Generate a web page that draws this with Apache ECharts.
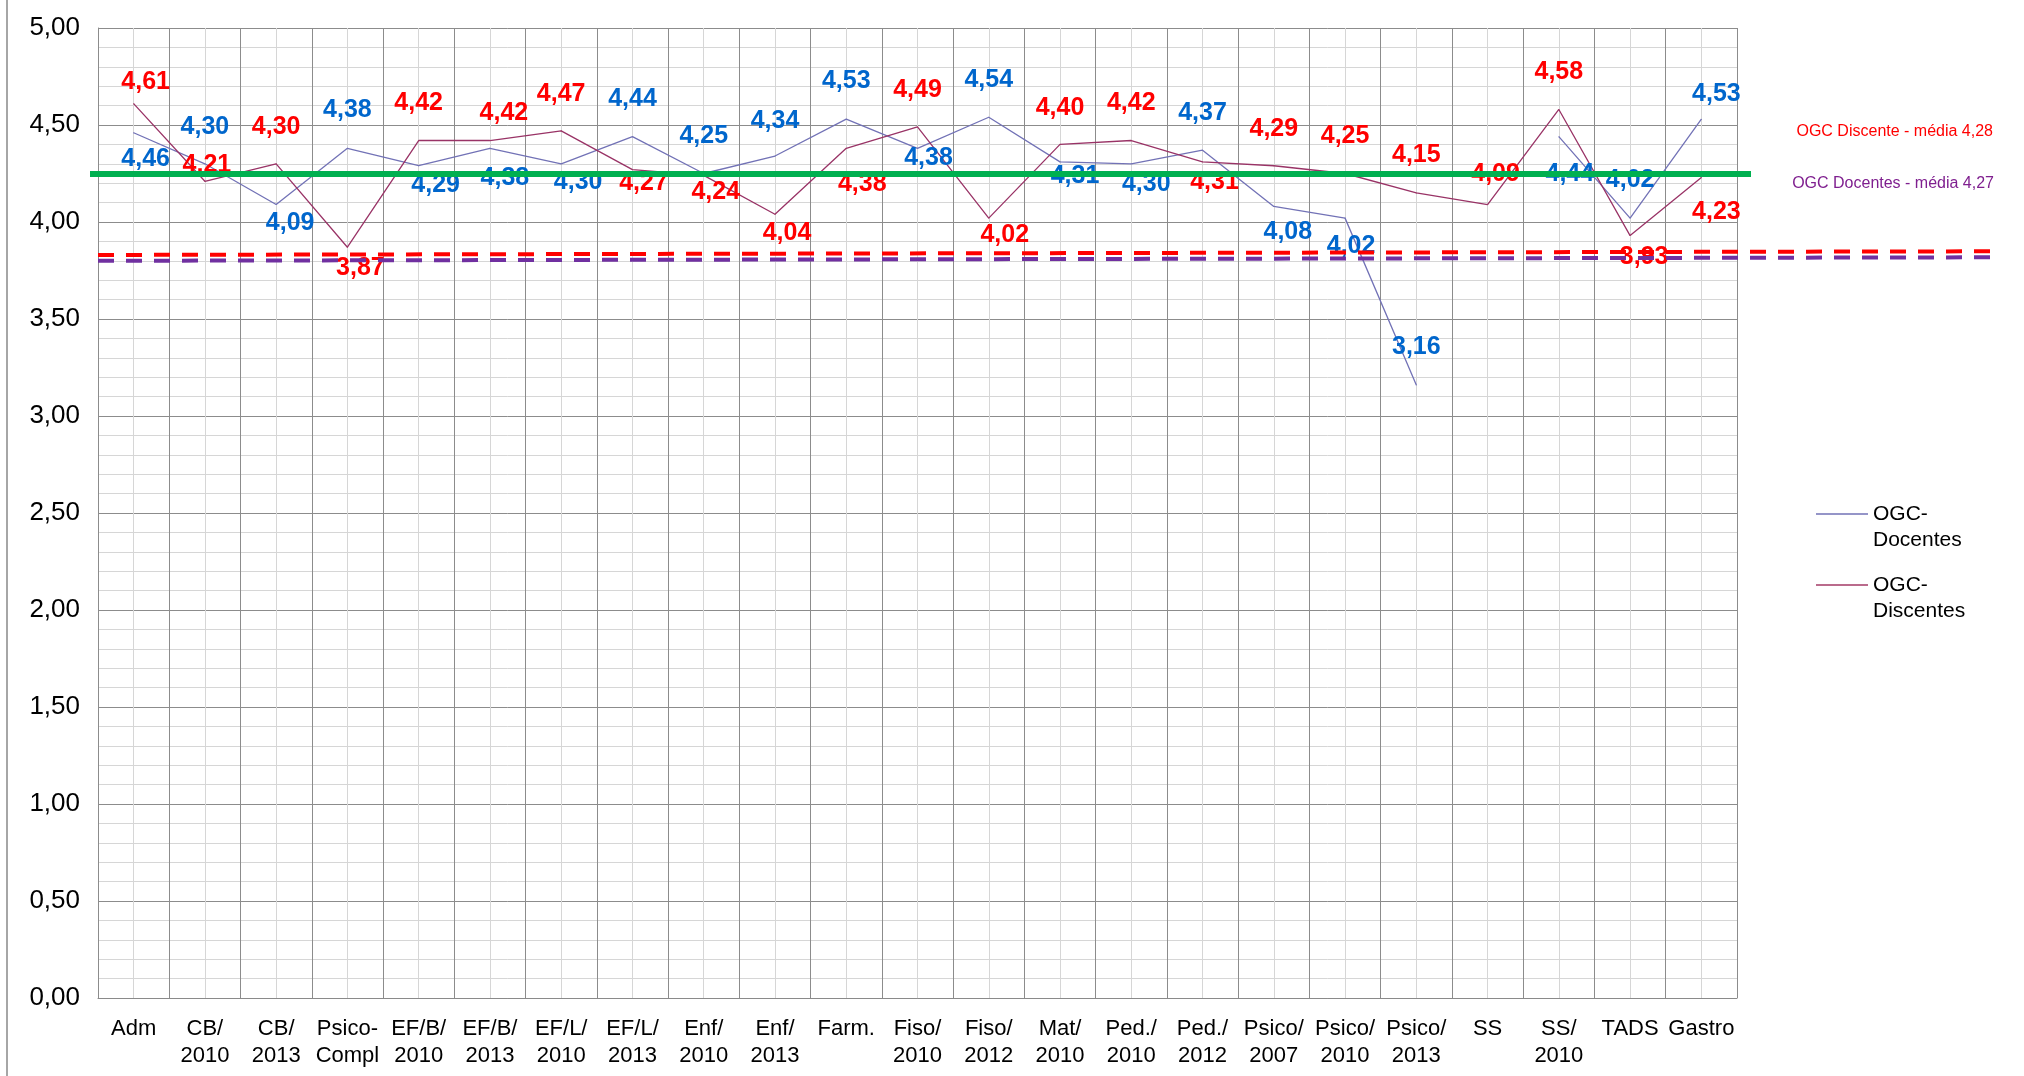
<!DOCTYPE html>
<html>
<head>
<meta charset="utf-8">
<script src="https://cdn.jsdelivr.net/npm/echarts/dist/echarts.min.js"></script>
<style>html,body{margin:0;padding:0;background:#fff}#c{width:2024px;height:1076px}</style>
</head>
<body>
<div id="c"></div>
<script>
const categories = ['Adm','CB/\n2010','CB/\n2013','Psico-\nCompl','EF/B/\n2010','EF/B/\n2013','EF/L/\n2010','EF/L/\n2013','Enf/\n2010','Enf/\n2013','Farm.','Fiso/\n2010','Fiso/\n2012','Mat/\n2010','Ped./\n2010','Ped./\n2012','Psico/\n2007','Psico/\n2010','Psico/\n2013','SS','SS/\n2010','TADS','Gastro'];
const docentes = [4.46,4.30,4.09,4.38,4.29,4.38,4.30,4.44,4.25,4.34,4.53,4.38,4.54,4.31,4.30,4.37,4.08,4.02,3.16,null,4.44,4.02,4.53];
const discentes = [4.61,4.21,4.30,3.87,4.42,4.42,4.47,4.27,4.24,4.04,4.38,4.49,4.02,4.40,4.42,4.31,4.29,4.25,4.15,4.09,4.58,3.93,4.23];
const yTicks = {min:0, max:5, step:0.5};
const greenLevel = 4.255;
const discenteRef = [3.830, 3.849];
const docenteRef = [3.800, 3.818];
const noteTexts = ['OGC Discente - média 4,28','OGC Docentes - média 4,27'];

// label placement (style, px offsets from point)
const docOffsets = [[12,26],[0,-37],[14,19],[0,-38],[17,19],[15,30],[17,18],[0,-38],[0,-37],[0,-35],[0,-38],[11,10],[0,-37],[15,14],[15,20],[0,-37],[14,26],[6,28],[0,-38],null,[11,37],[0,-38],[15,-25]];
const disOffsets = [[12,-22],[2,-16],[0,-37],[13,21],[0,-37],[14,-27],[0,-37],[11,13],[12,17],[12,19],[16,36],[0,-37],[16,17],[0,-36],[0,-37],[12,20],[0,-37],[0,-37],[0,-38],[8,-30],[0,-37],[14,22],[15,35]];

const FONT = 'Liberation Sans, Arial, sans-serif';
const fmt = v => Number(v).toFixed(2).replace('.', ',');

function items(vals, offs, color) {
  return vals.map((v, i) => {
    if (v == null) return null;
    return {
      value: v,
      label: {
        show: true, position: 'inside', offset: offs[i] || [0,0],
        formatter: p => fmt(p.value), color: color,
        fontSize: 25, fontWeight: 'bold', fontFamily: FONT
      }
    };
  });
}

const chart = echarts.init(document.getElementById('c'), null, {renderer: 'canvas'});
const option = {
  animation: false,
  backgroundColor: '#fff',
  grid: [
    {left: 98, right: 287, top: 28, bottom: 78, outerBoundsMode: 'none', containLabel: false},
    {left: 90, right: 273, top: 28, bottom: 78, outerBoundsMode: 'none', containLabel: false},
    {left: 98, right: 32, top: 28, bottom: 78, outerBoundsMode: 'none', containLabel: false}
  ],
  xAxis: [
    {type: 'category', gridIndex: 0, data: categories, boundaryGap: true, z: 1,
     axisLine: {show: true, lineStyle: {color: '#8a8a8a', width: 1}},
     axisTick: {show: false},
     axisLabel: {interval: 0, color: '#000', fontSize: 22, lineHeight: 27, margin: 17, fontFamily: FONT},
     splitLine: {show: true, interval: 0, lineStyle: {color: '#8c8c8c', width: 1}}},
    {type: 'value', gridIndex: 0, min: 0, max: 46, interval: 1, position: 'top', z: 0,
     axisLine: {show: false}, axisTick: {show: false}, axisLabel: {show: false},
     splitLine: {show: true, lineStyle: {color: '#d6d6d6', width: 1}}},
    {type: 'value', gridIndex: 1, min: 0, max: 1, show: false},
    {type: 'value', gridIndex: 2, min: 0, max: 1, show: false}
  ],
  yAxis: [
    {type: 'value', gridIndex: 0, min: yTicks.min, max: yTicks.max, interval: yTicks.step,
     axisLine: {show: true, lineStyle: {color: '#8a8a8a', width: 1}},
     axisTick: {show: false},
     axisLabel: {color: '#000', fontSize: 26, margin: 18, fontFamily: FONT, formatter: v => fmt(v)},
     splitLine: {show: true, lineStyle: {color: '#8c8c8c', width: 1}},
     minorTick: {show: false, splitNumber: 5},
     minorSplitLine: {show: true, lineStyle: {color: '#d6d6d6', width: 1}}},
    {type: 'value', gridIndex: 1, min: yTicks.min, max: yTicks.max, show: false},
    {type: 'value', gridIndex: 2, min: yTicks.min, max: yTicks.max, show: false}
  ],
  legend: {
    orient: 'vertical', left: 1816, top: 475, padding: 0, itemGap: -7,
    icon: 'rect', itemWidth: 52, itemHeight: 1.5,
    data: ['OGC-Docentes', 'OGC-Discentes'],
    formatter: n => '\u00a0\n' + n.replace('-', '-\n'),
    textStyle: {fontSize: 21, lineHeight: 26, color: '#000', fontFamily: FONT}
  },
  graphic: [
    {type: 'line', shape: {x1: 7, y1: 0, x2: 7, y2: 1076}, style: {stroke: '#a6a6a6', lineWidth: 2}},
    {type: 'text', right: 31, top: 124, style: {text: noteTexts[0], fill: '#ff0000', font: '16px ' + FONT}},
    {type: 'text', right: 30, top: 176, style: {text: noteTexts[1], fill: '#7f1f8f', font: '16px ' + FONT}}
  ],
  series: [
    {name: 'OGC-Docentes', type: 'line', xAxisIndex: 0, yAxisIndex: 0, z: 2,
     data: items(docentes, docOffsets, '#0066cc'), connectNulls: false,
     symbol: 'circle', symbolSize: 1, showSymbol: true,
     lineStyle: {color: '#7272b6', width: 1.3}, itemStyle: {color: '#7272b6'}},
    {name: 'OGC-Discentes', type: 'line', xAxisIndex: 0, yAxisIndex: 0, z: 2,
     data: items(discentes, disOffsets, '#ff0000'), connectNulls: false,
     symbol: 'circle', symbolSize: 1, showSymbol: true,
     lineStyle: {color: '#993366', width: 1.3}, itemStyle: {color: '#a33a66'}},
    {name: 'green', type: 'line', xAxisIndex: 2, yAxisIndex: 1, z: 6, data: [],
     markLine: {silent: true, symbol: ['none', 'none'], label: {show: false},
       lineStyle: {color: '#00b050', width: 6, type: 'solid'},
       data: [{yAxis: greenLevel}]}},
    {name: 'refs', type: 'line', xAxisIndex: 3, yAxisIndex: 2, z: 5, data: [],
     markLine: {silent: true, symbol: ['none', 'none'], label: {show: false},
       lineStyle: {width: 4, type: [16, 12]},
       data: [
         [{coord: [0, discenteRef[0]], lineStyle: {color: '#ff0000', width: 4, type: [16, 12]}}, {coord: [1, discenteRef[1]]}],
         [{coord: [0, docenteRef[0]], lineStyle: {color: '#7030a0', width: 4, type: [16, 12]}}, {coord: [1, docenteRef[1]]}]
       ]}}
  ]
};
chart.setOption(option);
</script>
</body>
</html>
